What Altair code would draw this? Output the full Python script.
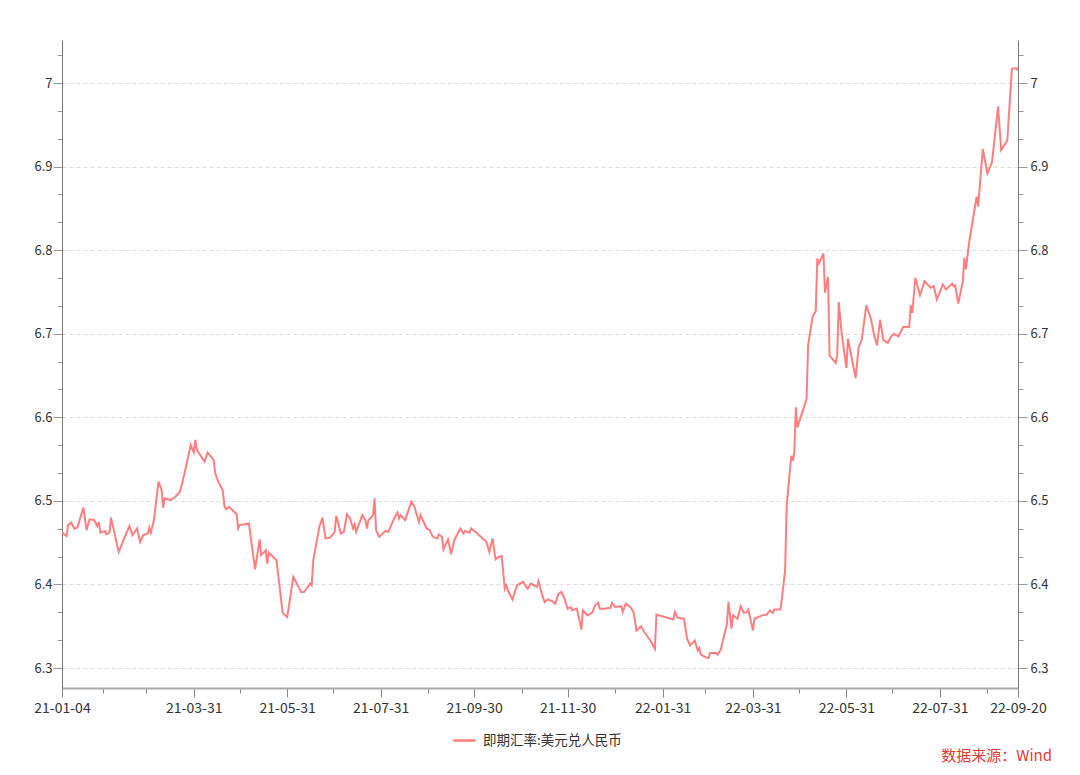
import datetime
import altair as alt
import pandas as pd

# ---- data ----
dates = [
    "2021-01-04", "2021-01-07", "2021-01-08", "2021-01-10", "2021-01-12", "2021-01-14", "2021-01-18",
    "2021-01-20", "2021-01-22", "2021-01-25", "2021-01-27", "2021-01-28", "2021-01-29", "2021-02-01",
    "2021-02-02", "2021-02-04", "2021-02-05", "2021-02-10", "2021-02-17", "2021-02-19", "2021-02-22",
    "2021-02-24", "2021-02-26", "2021-03-01", "2021-03-02", "2021-03-03", "2021-03-05", "2021-03-08",
    "2021-03-10", "2021-03-11", "2021-03-12", "2021-03-16", "2021-03-19", "2021-03-22", "2021-03-25",
    "2021-03-29", "2021-03-31", "2021-04-01", "2021-04-02", "2021-04-07", "2021-04-09", "2021-04-13",
    "2021-04-14", "2021-04-16", "2021-04-19", "2021-04-20", "2021-04-21", "2021-04-23", "2021-04-28",
    "2021-04-29", "2021-04-30", "2021-05-06", "2021-05-10", "2021-05-13", "2021-05-14", "2021-05-17",
    "2021-05-18", "2021-05-19", "2021-05-24", "2021-05-28", "2021-05-31", "2021-06-02", "2021-06-04",
    "2021-06-08", "2021-06-09", "2021-06-11", "2021-06-15", "2021-06-16", "2021-06-17", "2021-06-21",
    "2021-06-23", "2021-06-25", "2021-06-28", "2021-07-01", "2021-07-02", "2021-07-05", "2021-07-07",
    "2021-07-09", "2021-07-11", "2021-07-13", "2021-07-14", "2021-07-15", "2021-07-19", "2021-07-21",
    "2021-07-22", "2021-07-23", "2021-07-26", "2021-07-27", "2021-07-28", "2021-07-30", "2021-08-02",
    "2021-08-03", "2021-08-05", "2021-08-09", "2021-08-11", "2021-08-12", "2021-08-13", "2021-08-16",
    "2021-08-20", "2021-08-22", "2021-08-25", "2021-08-26", "2021-08-30", "2021-09-01", "2021-09-03",
    "2021-09-06", "2021-09-07", "2021-09-09", "2021-09-10", "2021-09-13", "2021-09-15", "2021-09-17",
    "2021-09-21", "2021-09-23", "2021-09-24", "2021-09-27", "2021-09-28", "2021-10-02", "2021-10-08",
    "2021-10-10", "2021-10-12", "2021-10-14", "2021-10-16", "2021-10-18", "2021-10-20", "2021-10-21",
    "2021-10-22", "2021-10-25", "2021-10-28", "2021-11-01", "2021-11-03", "2021-11-04", "2021-11-06",
    "2021-11-10", "2021-11-11", "2021-11-13", "2021-11-15", "2021-11-17", "2021-11-20", "2021-11-22",
    "2021-11-24", "2021-11-26", "2021-11-28", "2021-11-30", "2021-12-02", "2021-12-03", "2021-12-06",
    "2021-12-08", "2021-12-09", "2021-12-10", "2021-12-13", "2021-12-16", "2021-12-18", "2021-12-20",
    "2021-12-21", "2021-12-24", "2021-12-28", "2021-12-29", "2021-12-31", "2022-01-04", "2022-01-05",
    "2022-01-07", "2022-01-10", "2022-01-12", "2022-01-14", "2022-01-17", "2022-01-19", "2022-01-23",
    "2022-01-26", "2022-01-27", "2022-02-07", "2022-02-08", "2022-02-10", "2022-02-14", "2022-02-16",
    "2022-02-18", "2022-02-21", "2022-02-23", "2022-02-24", "2022-02-25", "2022-02-28", "2022-03-02",
    "2022-03-03", "2022-03-07", "2022-03-08", "2022-03-10", "2022-03-14", "2022-03-15", "2022-03-17",
    "2022-03-18", "2022-03-21", "2022-03-23", "2022-03-25", "2022-03-27", "2022-03-28", "2022-03-31",
    "2022-04-01", "2022-04-06", "2022-04-09", "2022-04-11", "2022-04-13", "2022-04-14", "2022-04-18",
    "2022-04-19", "2022-04-21", "2022-04-22", "2022-04-25", "2022-04-26", "2022-04-27", "2022-04-28",
    "2022-04-29", "2022-05-05", "2022-05-06", "2022-05-09", "2022-05-11", "2022-05-12", "2022-05-13",
    "2022-05-16", "2022-05-17", "2022-05-19", "2022-05-20", "2022-05-24", "2022-05-25", "2022-05-26",
    "2022-05-28", "2022-05-31", "2022-06-01", "2022-06-06", "2022-06-08", "2022-06-10", "2022-06-13",
    "2022-06-16", "2022-06-18", "2022-06-20", "2022-06-22", "2022-06-24", "2022-06-27", "2022-06-29",
    "2022-07-01", "2022-07-04", "2022-07-07", "2022-07-11", "2022-07-12", "2022-07-13", "2022-07-15",
    "2022-07-18", "2022-07-21", "2022-07-25", "2022-07-27", "2022-07-29", "2022-08-02", "2022-08-04",
    "2022-08-08", "2022-08-09", "2022-08-10", "2022-08-12", "2022-08-15", "2022-08-16", "2022-08-17",
    "2022-08-19", "2022-08-24", "2022-08-25", "2022-08-28", "2022-08-31", "2022-09-03", "2022-09-07",
    "2022-09-09", "2022-09-13", "2022-09-16", "2022-09-19", "2022-09-20",
]

usdcny = [
    6.462, 6.458, 6.471, 6.474, 6.467, 6.468, 6.492,
    6.465, 6.478, 6.477, 6.470, 6.475, 6.462, 6.464,
    6.460, 6.462, 6.480, 6.439, 6.470, 6.459, 6.467,
    6.451, 6.459, 6.461, 6.468, 6.462, 6.477, 6.523,
    6.513, 6.492, 6.503, 6.501, 6.505, 6.511, 6.533,
    6.567, 6.558, 6.573, 6.561, 6.547, 6.558, 6.549,
    6.533, 6.523, 6.512, 6.494, 6.490, 6.493, 6.484,
    6.467, 6.471, 6.473, 6.418, 6.454, 6.435, 6.441,
    6.425, 6.438, 6.429, 6.366, 6.361, 6.385, 6.409,
    6.395, 6.391, 6.391, 6.401, 6.399, 6.429, 6.469,
    6.480, 6.455, 6.456, 6.463, 6.482, 6.461, 6.463,
    6.484, 6.479, 6.467, 6.472, 6.463, 6.483, 6.477,
    6.467, 6.477, 6.483, 6.503, 6.465, 6.457, 6.462,
    6.464, 6.463, 6.480, 6.486, 6.479, 6.483, 6.477,
    6.499, 6.493, 6.475, 6.483, 6.467, 6.465, 6.457,
    6.455, 6.460, 6.457, 6.442, 6.454, 6.436, 6.453,
    6.467, 6.461, 6.464, 6.462, 6.467, 6.461, 6.451,
    6.439, 6.455, 6.430, 6.433, 6.434, 6.395, 6.399,
    6.393, 6.382, 6.399, 6.403, 6.397, 6.395, 6.401,
    6.397, 6.404, 6.390, 6.379, 6.382, 6.380, 6.377,
    6.389, 6.391, 6.383, 6.371, 6.373, 6.369, 6.371,
    6.355, 6.346, 6.369, 6.363, 6.366, 6.375, 6.378,
    6.371, 6.371, 6.372, 6.378, 6.373, 6.374, 6.367,
    6.377, 6.373, 6.367, 6.345, 6.350, 6.343, 6.333,
    6.323, 6.364, 6.358, 6.367, 6.360, 6.359, 6.335,
    6.327, 6.333, 6.321, 6.324, 6.316, 6.313, 6.312,
    6.318, 6.318, 6.316, 6.322, 6.353, 6.379, 6.347,
    6.363, 6.359, 6.374, 6.366, 6.367, 6.370, 6.345,
    6.359, 6.363, 6.364, 6.369, 6.366, 6.370, 6.370,
    6.385, 6.417, 6.494, 6.554, 6.548, 6.558, 6.612,
    6.588, 6.622, 6.686, 6.721, 6.727, 6.790, 6.784,
    6.796, 6.749, 6.768, 6.674, 6.665, 6.674, 6.738,
    6.699, 6.659, 6.694, 6.647, 6.684, 6.693, 6.734,
    6.718, 6.699, 6.686, 6.717, 6.693, 6.689, 6.696,
    6.700, 6.697, 6.708, 6.708, 6.734, 6.725, 6.767,
    6.746, 6.763, 6.755, 6.757, 6.741, 6.759, 6.753,
    6.760, 6.757, 6.758, 6.736, 6.763, 6.791, 6.777,
    6.808, 6.864, 6.852, 6.921, 6.892, 6.905, 6.972,
    6.920, 6.931, 7.017, 7.018, 7.015,
]

series_name = "即期汇率:美元兑人民币"
source_text = "数据来源：Wind"

x_tick_dates = [
    "2021-01-04", "2021-01-31", "2021-02-28", "2021-03-31", "2021-04-30", "2021-05-31",
    "2021-06-30", "2021-07-31", "2021-08-31", "2021-09-30", "2021-10-31", "2021-11-30",
    "2021-12-31", "2022-01-31", "2022-02-28", "2022-03-31", "2022-04-30", "2022-05-31",
    "2022-06-30", "2022-07-31", "2022-08-31", "2022-09-20",
]
x_labels = ["21-01-04", "21-03-31", "21-05-31", "21-07-31", "21-09-30", "21-11-30",
            "22-01-31", "22-03-31", "22-05-31", "22-07-31", "22-09-20"]

y_ticks = [6.3, 6.3333, 6.3667, 6.4, 6.4333, 6.4667, 6.5, 6.5333, 6.5667, 6.6, 6.6333,
           6.6667, 6.7, 6.7333, 6.7667, 6.8, 6.8333, 6.8667, 6.9, 6.9333, 6.9667, 7.0, 7.0333]
y_domain = [6.2761, 7.0515]

LINE_COLOR = "#FF7F80"
FONT = "Noto Sans CJK SC"


def to_ms(s):
    d = datetime.datetime.strptime(s, "%Y-%m-%d").replace(tzinfo=datetime.timezone.utc)
    return int(d.timestamp() * 1000)


df = pd.DataFrame({"date": dates, "value": usdcny, "series": series_name})

x_values = [to_ms(s) for s in x_tick_dates]
label_list = "[" + ",".join("'%s'" % s for s in x_labels) + "]"
x_major = "indexof(%s, utcFormat(datum.value, '%%y-%%m-%%d')) >= 0" % label_list
x_label_expr = "%s ? utcFormat(datum.value, '%%y-%%m-%%d') : ''" % x_major

y_major = "abs(datum.value * 10 - round(datum.value * 10)) < 0.05"
y_label_expr = "%s ? format(datum.value, '.1~f') : ''" % y_major

x_scale = alt.Scale(type="utc", domain=[to_ms(x_tick_dates[0]), to_ms(x_tick_dates[-1])])
y_scale = alt.Scale(domain=y_domain, zero=False, nice=False)

x_axis = alt.Axis(
    title=None,
    values=x_values,
    labelExpr=x_label_expr,
    tickSize={"condition": {"test": x_major, "value": 9}, "value": 5},
    tickColor="#888888",
    domainColor="#AAAAAA",
    domainWidth=2,
    labelFontSize=14,
    labelColor="#333333",
    labelFont=FONT,
    labelPadding=4,
    labelOverlap=False,
    labelFlush=False,
    grid=False,
)

left_axis = alt.Axis(
    title=None,
    orient="left",
    values=y_ticks,
    labelExpr=y_label_expr,
    tickSize={"condition": {"test": y_major, "value": 9}, "value": 5},
    tickColor="#999999",
    domainColor="#777777",
    labelFontSize=13,
    labelColor="#333333",
    labelFont=FONT,
    labelPadding=1,
    labelOverlap=False,
    grid=True,
    gridDash=[4, 3],
    gridColor="#DDDDDD",
    gridOpacity={"condition": {"test": y_major, "value": 1}, "value": 0},
)

right_axis = alt.Axis(
    title=None,
    orient="right",
    values=y_ticks,
    labelExpr=y_label_expr,
    tickSize={"condition": {"test": y_major, "value": 9}, "value": 5},
    tickColor="#999999",
    domainColor="#777777",
    labelFontSize=13,
    labelColor="#333333",
    labelFont=FONT,
    labelPadding=3,
    labelOverlap=False,
    grid=False,
)

base = alt.Chart(df)

line = base.mark_line(strokeWidth=2).encode(
    x=alt.X("date:T", scale=x_scale, axis=x_axis),
    y=alt.Y("value:Q", scale=y_scale, axis=left_axis),
    color=alt.Color(
        "series:N",
        scale=alt.Scale(domain=[series_name], range=[LINE_COLOR]),
        legend=alt.Legend(
            title=None,
            orient="none",
            legendX=390,
            legendY=688,
            symbolType="stroke",
            symbolStrokeWidth=2.5,
            symbolSize=500,
            labelFontSize=13.5,
            labelColor="#333333",
            labelFont=FONT,
            labelOffset=6,
            padding=0,
        ),
    ),
)

right = base.mark_line(strokeOpacity=0).encode(
    x=alt.X("date:T", scale=x_scale, axis=x_axis),
    y=alt.Y("value:Q", scale=y_scale, axis=right_axis),
)

source = alt.Chart(pd.DataFrame({"t": [source_text]})).mark_text(
    align="right", baseline="middle", fontSize=15, font=FONT, color="#E53935"
).encode(
    text="t:N",
    x=alt.value(990),
    y=alt.value(716),
)

chart = (
    alt.layer(line, right, source)
    .resolve_scale(y="independent")
    .properties(
        width=956,
        height=648,
        autosize=alt.AutoSizeParams(type="none"),
        padding={"left": 54, "top": 32, "right": 54, "bottom": 79},
        background="white",
    )
    .configure_view(stroke=None)
)

chart.save("out.html", embed_options={"renderer": "svg", "actions": False})
